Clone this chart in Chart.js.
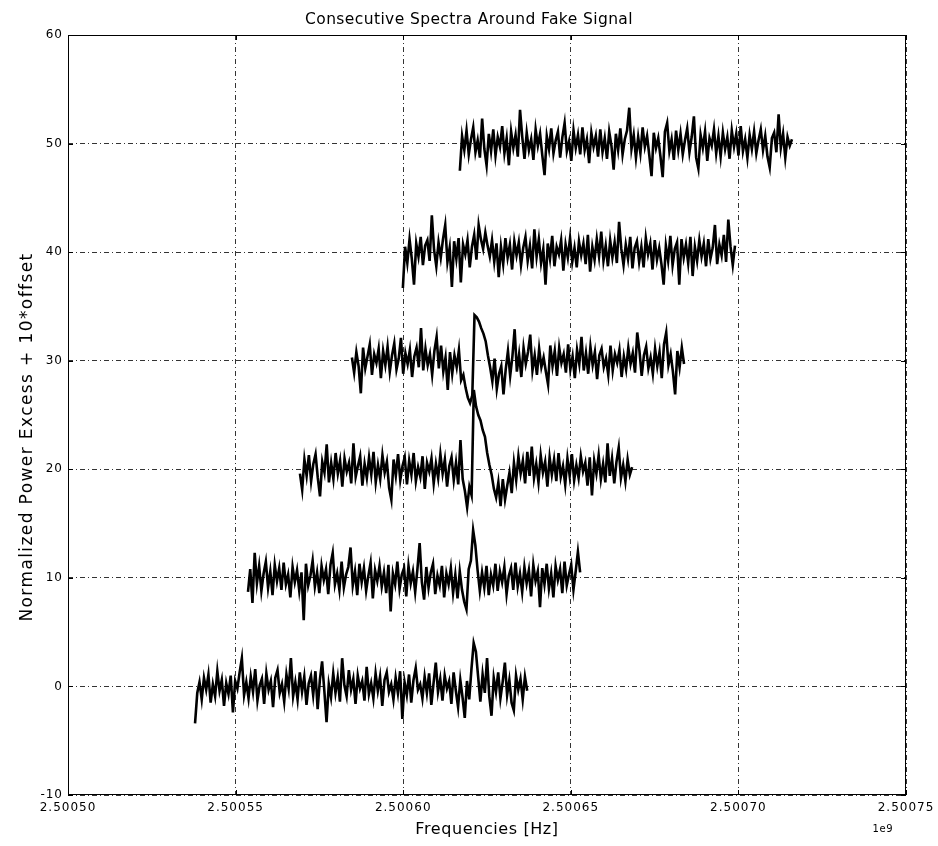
<!DOCTYPE html>
<html>
<head>
<meta charset="utf-8">
<title>Consecutive Spectra Around Fake Signal</title>
<script src="https://cdn.jsdelivr.net/npm/chart.js@4/dist/chart.umd.min.js"></script>
<style>
  html, body { margin: 0; padding: 0; background: #fff; }
  #wrap { width: 938px; height: 846px; }
</style>
</head>
<body>
<div id="wrap"><canvas id="spectra" width="938" height="846"></canvas></div>
<script>
// first bin of each spectrum (Hz), bin width and the vertical offset index
const startFreqs = [2500537900, 2500553700, 2500569200, 2500584700, 2500599900, 2500616900];
const binWidth = 665;
const offsets = [0, 1, 2, 3, 4, 5];

const xTicks = [2500500000, 2500550000, 2500600000, 2500650000, 2500700000, 2500750000];
const yTicks = [-10, 0, 10, 20, 30, 40, 50, 60];

// normalized power excess per bin
const spec0 = [
  -3.4, -0.6, 0.4, -1.2, 0.8, -0.3, 1.1, -1.5, 0.2, -0.9, 1.4, -0.4, 0.6, -1.8, 0.3,
  -0.7, 1.0, -2.4, 0.5, -0.2, 1.3, 2.6, -0.8, 0.4, -1.1, 0.9, -0.5, 1.6, -1.3, 0.1,
  0.7, -1.6, 1.2, -0.3, 0.5, -1.9, 0.8, 1.5, -0.6, 0.2, -1.4, 1.1, -0.2, 2.6, -0.9,
  0.4, -1.2, 1.3, -0.5, 0.9, -1.7, 0.3, 1.0, -0.8, 1.4, -2.1, 0.6, 2.3, -0.4, -3.3,
  0.2, -1.0, 1.2, -0.6, 0.8, -1.4, 2.6, 0.1, -0.9, 1.5, -0.3, 0.7, -1.6, 1.0, -0.2,
  0.5, -1.3, 1.8, -0.7, 0.3, -1.1, 1.2, -0.4, 0.9, -1.8, 0.6, 1.3, -0.5, 0.2, -1.2,
  0.8, -0.6, 1.4, -3.0, 0.4, -0.8, 1.1, -1.5, 0.6, 1.7, -0.3, 0.2, -1.1, 0.9, -0.6,
  1.2, -1.7, 0.3, 2.2, -0.5, 0.7, -1.3, 1.0, -0.2, 0.5, -1.6, 1.3, -0.4, -1.9, 0.6,
  -1.0, -2.9, 0.5, -1.2, 1.6, 4.0, 3.2, 0.9, -1.4, 1.1, -0.6, 2.6, -0.9, -2.7, 0.8,
  -0.5, 1.3, -1.1, 0.4, 2.2, -0.8, 0.6, -1.5, -2.2, 1.0, -0.3, 0.7, -1.2, 0.9, -0.4
];
const spec1 = [
  -1.3, 0.8, -2.3, 2.3, -0.5, 1.1, -1.2, 0.4, 1.5, -0.9, 0.6, -1.6, 1.2, -0.3, 0.9,
  -1.1, 1.4, -0.6, 0.3, -1.8, 1.0, -0.4, 0.7, -1.2, 0.5, -3.9, 1.3, -0.7, 0.2, 1.6,
  -0.8, 0.5, -1.4, 1.1, -0.2, 0.8, -1.5, 1.2, 2.3, -0.6, 0.4, -1.1, 1.5, -0.9, 0.3,
  1.0, 2.8, -0.7, 0.6, -1.6, 1.3, -0.4, 0.9, -1.2, 0.2, 1.4, -1.9, 0.7, -0.3, 1.1,
  -0.8, 0.5, -1.4, 1.2, -3.1, 0.4, -0.6, 1.5, -1.0, 0.3, 0.9, -1.7, 1.1, -0.5, 0.6,
  -1.3, 0.8, 3.2, -0.4, -2.0, 1.0, -0.9, 0.5, 1.3, -1.5, 0.2, -0.7, 1.1, -1.8, 0.4,
  -0.6, 0.9, -1.4, 0.3, -1.9, 0.6, -1.1, -2.2, -2.9, 0.8, 1.6, 4.4, 3.0, 0.7, -1.2,
  0.5, -0.9, 1.1, -1.6, 0.3, -0.7, 1.3, -1.2, 0.6, -0.4, 1.0, -1.5, 0.2, 0.9, -1.1,
  1.4, -0.8, 0.4, -1.3, 1.0, -0.5, 0.7, -1.7, 1.2, -0.3, 0.6, -2.7, 0.9, -0.6, 1.3,
  -1.0, 0.4, -1.8, 1.1, -0.2, 0.8, -1.4, 1.5, -0.7, 0.3, 1.2, -1.1, 0.6, 2.4, 0.5
];
const spec2 = [
  -0.4, -1.9, 0.9, -0.6, 1.3, -1.1, 0.5, 1.4, -0.8, -2.5, 0.7, -0.3, 2.3, -1.2, 0.6,
  -0.9, 1.5, -0.4, 0.8, -1.6, 1.0, -0.2, 0.6, -1.3, 2.4, -0.7, 0.3, 1.2, -1.5, 0.5,
  -0.8, 1.1, -0.5, 1.6, -1.2, 0.4, -0.9, 1.3, -0.3, 0.7, -1.7, -2.8, 0.9, -0.6, 1.4,
  -1.0, 0.3, 1.1, -1.4, 0.8, -0.5, 1.5, -1.1, 0.2, -0.7, 1.2, -1.8, 0.6, -0.2, 1.0,
  -1.3, 0.5, -0.8, 1.4, -0.4, 0.9, -1.6, 0.3, 1.1, -1.0, 0.6, -1.4, 2.7, -0.9, -2.0,
  -3.5, -1.6, -2.4, 7.3, 5.8, 5.0, 4.5, 3.6, 3.0, 1.5, 0.4, -0.5, -1.8, -2.6, -1.2,
  -3.4, -0.9, -2.8, -1.5, -0.3, -2.2, 0.6, -1.0, 1.2, -0.4, 0.8, -1.3, 1.6, -0.6, 2.1,
  -0.8, 0.5, -1.2, 1.3, -0.3, 0.7, -1.6, 1.1, -0.5, 0.9, -1.1, 1.5, -0.7, 0.3, -1.4,
  1.0, -0.6, 1.4, -1.0, 0.4, -0.8, 1.2, -0.2, 0.6, -1.5, 1.1, -2.4, 0.8, -0.4, 1.3,
  -0.9, 0.5, -1.2, 2.4, -0.6, 1.0, -1.3, 0.7, 2.0, -0.8, 0.4, -1.1, 0.9, -0.5, 0.2
];
const spec3 = [
  0.3, -1.1, 0.8, -0.5, -3.0, 1.2, -0.7, 0.4, 1.5, -1.3, 0.6, -0.2, 1.1, -1.6, 0.9,
  -0.4, 1.3, -1.0, 0.5, 1.6, -0.8, 0.2, 2.1, -1.2, 0.7, -0.3, 1.0, -1.5, 0.4, 1.2,
  -0.6, 3.0, -0.9, 1.1, -0.4, 0.6, -1.3, 0.9, 2.2, -0.7, 1.4, -1.0, 0.3, -2.7, 0.8,
  -1.2, 0.5, -0.6, 1.0, -1.8, -1.3, -2.5, -3.4, -3.9, -3.2, 4.2, 4.0, 3.6, 3.0, 2.5,
  1.8, 0.5, -0.6, -1.9, 0.2, -2.6, -1.2, -0.5, -3.1, -0.8, 0.9, -1.4, 0.4, 2.9, -1.0,
  0.6, -1.5, 1.2, -0.3, 0.8, 2.4, -0.9, 0.5, -1.3, 1.1, -0.6, 0.3, -1.0, -2.2, 1.4,
  -0.5, 0.9, -1.4, 1.2, -0.2, 0.6, -1.1, 1.5, -0.8, 0.4, -1.6, 1.0, -0.3, 2.2, -0.9,
  0.7, -1.2, 1.3, -0.4, 0.8, -1.7, 0.5, 1.1, -0.6, 0.2, -1.3, 1.4, -0.9, 0.6, -0.2,
  1.0, -1.5, 0.4, -0.8, 1.2, -0.3, 0.7, -1.1, 2.6, 0.9, -1.4, 0.5, 1.3, -0.7, 0.3,
  -1.2, 1.1, -0.5, 0.8, -1.6, 1.5, 2.6, -0.4, 0.6, -1.0, -3.1, 0.9, -0.6, 1.2, -0.3
];
const spec4 = [
  -3.3, 0.5, -1.0, 1.2, -0.6, -3.0, 0.8, -0.4, 1.4, -1.2, 0.6, 1.1, -0.8, 3.4, 0.2,
  -1.3, 0.9, -0.5, 1.2, 2.5, -0.9, 0.4, -3.2, 1.0, -0.6, 1.3, -2.8, 0.7, -0.2, 1.1,
  -1.4, 0.5, 1.6, -0.7, 2.5, 1.2, 0.3, 1.8, 0.6, -0.4, 1.1, -0.9, 0.8, -2.3, 0.5,
  -1.1, 1.3, -0.5, 0.7, -1.6, 1.0, -0.3, 0.9, -1.2, 0.4, 1.4, -0.8, 0.6, -1.5, 2.1,
  -0.4, 1.2, -1.0, 0.3, -3.0, 0.8, -0.6, 1.5, -1.3, 0.5, -0.2, 1.1, -1.7, 0.7, -0.5,
  1.3, -0.9, 0.4, -1.4, 1.0, -0.3, 0.8, -1.1, 1.6, -1.8, 0.5, -0.7, 1.2, -0.4, 1.9,
  -0.8, 0.6, -1.3, 1.1, -0.5, 0.9, -1.0, 2.8, 0.3, -1.2, 0.7, -0.6, 1.4, -1.5, 0.4,
  1.0, -0.9, 0.5, -1.4, 1.3, -0.2, 0.8, -1.6, 1.1, -0.7, 0.4, -1.1, -3.0, 0.6, -0.8,
  1.5, -1.2, 0.3, 0.9, -3.0, 1.2, -0.5, 0.7, -1.0, 1.4, -2.2, 0.5, -0.8, 1.1, -0.4,
  0.8, -1.3, 1.2, -0.6, 0.4, 2.5, -1.1, 0.7, -0.3, 1.6, -0.9, 3.0, 0.5, -1.2, 0.6
];
const spec5 = [
  -2.5, 0.7, -0.6, 1.2, -1.0, 0.4, 1.5, -0.8, 0.3, -1.3, 2.3, -0.5, -2.0, 0.9, -0.7,
  1.3, -1.1, 0.6, -0.3, 1.6, -0.9, 0.5, -2.0, 1.1, -0.4, 0.8, -1.2, 3.1, 0.6, -1.4,
  1.0, -0.6, 0.4, -1.5, 1.3, -0.2, 0.9, -1.1, -2.9, 0.7, -0.5, 1.4, -0.9, 0.3, 1.1,
  -1.3, 0.6, 1.9, -0.7, 0.2, -1.6, 1.2, -0.4, 0.8, -1.0, 1.5, -0.6, 0.4, -1.8, 1.0,
  -0.3, 0.7, -1.2, 1.3, -0.8, 0.5, -1.4, 1.1, -0.2, -2.4, 0.9, -0.6, 1.4, -1.0, 0.4,
  1.2, 3.3, -0.5, 0.8, -1.3, 0.6, -0.9, 1.5, -0.3, 0.7, -1.1, -3.0, 1.0, -0.4, 0.5,
  -1.2, -3.1, 1.1, 1.9, -0.7, 0.4, -1.5, 1.2, -0.6, 0.9, -1.0, 0.3, 1.4, -0.8, 0.6,
  2.5, -1.3, -2.3, 0.8, -0.4, 1.1, -1.6, 0.5, -0.2, 1.3, -0.9, 0.7, -1.2, 1.0, -0.5,
  0.6, -1.4, 1.2, -0.3, 0.9, -1.1, 1.6, -0.7, 0.4, -1.3, 0.8, -0.5, 1.1, -0.9, 0.3,
  1.3, -0.6, 0.7, -1.2, -2.2, 0.5, 1.0, -0.8, 2.7, -0.4, 0.9, -1.3, 0.6, -0.2, 0.4
];

const spectra = [spec0, spec1, spec2, spec3, spec4, spec5];

const FONT = '"DejaVu Sans", "Liberation Sans", sans-serif';

const datasets = spectra.map((spec, k) => ({
  label: 'offset ' + offsets[k],
  data: spec.map((v, i) => ({ x: startFreqs[k] + i * binWidth, y: v + 10 * offsets[k] })),
  showLine: true,
  borderColor: '#000',
  borderWidth: 2.6,
  pointRadius: 0,
  tension: 0
}));

// slightly widened tick text, like the original figure
const spacing = {
  id: 'spacing',
  beforeDraw(chart) { chart.ctx.letterSpacing = '1px'; }
};

// frame, inward tick marks, title, axis labels and the 1e9 offset label
const decorations = {
  id: 'decorations',
  afterDraw(chart) {
    const { ctx, chartArea: a, scales } = chart;
    ctx.save();
    ctx.strokeStyle = '#000';
    ctx.lineWidth = 1;
    ctx.setLineDash([]);
    ctx.strokeRect(a.left + 0.5, a.top + 0.5, a.right - a.left - 1, a.bottom - a.top - 1);

    ctx.beginPath();
    xTicks.forEach(t => {
      const px = Math.round(scales.x.getPixelForValue(t)) + 0.5;
      ctx.moveTo(px, a.bottom); ctx.lineTo(px, a.bottom - 5);
      ctx.moveTo(px, a.top); ctx.lineTo(px, a.top + 5);
    });
    yTicks.forEach(t => {
      const py = Math.round(scales.y.getPixelForValue(t)) + 0.5;
      ctx.moveTo(a.left, py); ctx.lineTo(a.left + 5, py);
      ctx.moveTo(a.right, py); ctx.lineTo(a.right - 5, py);
    });
    ctx.stroke();

    ctx.fillStyle = '#000';
    ctx.textAlign = 'center';
    ctx.textBaseline = 'middle';

    ctx.letterSpacing = '0.4px';
    ctx.font = '15.5px ' + FONT;
    ctx.fillText('Consecutive Spectra Around Fake Signal', 469, 20);

    ctx.letterSpacing = '0.6px';
    ctx.font = '16px ' + FONT;
    ctx.fillText('Frequencies [Hz]', (a.left + a.right) / 2, 830);

    ctx.save();
    ctx.translate(28, 437);
    ctx.rotate(-Math.PI / 2);
    ctx.letterSpacing = '1.4px';
    ctx.font = '17px ' + FONT;
    ctx.fillText('Normalized Power Excess + 10*offset', 0, 0);
    ctx.restore();

    ctx.letterSpacing = '0.5px';
    ctx.font = '10px ' + FONT;
    ctx.textAlign = 'right';
    ctx.fillText('1e9', 893, 829);
    ctx.restore();
  }
};

new Chart(document.getElementById('spectra'), {
  type: 'scatter',
  data: { datasets },
  options: {
    responsive: false,
    animation: false,
    layout: { padding: { top: 35, right: 32, bottom: 0, left: 0 } },
    plugins: {
      legend: { display: false },
      tooltip: { enabled: false },
      title: { display: false }
    },
    scales: {
      x: {
        type: 'linear',
        min: xTicks[0],
        max: xTicks[xTicks.length - 1],
        afterBuildTicks: s => { s.ticks = xTicks.map(v => ({ value: v })); },
        afterFit: s => { s.height = 51; },
        ticks: {
          color: '#000',
          font: { family: FONT, size: 12 },
          padding: 6,
          maxRotation: 0,
          callback: v => (v / 1e9).toFixed(5)
        },
        grid: { color: '#333', lineWidth: 1, drawTicks: false },
        border: { display: false, dash: [5, 3, 1, 3] }
      },
      y: {
        min: yTicks[0],
        max: yTicks[yTicks.length - 1],
        afterBuildTicks: s => { s.ticks = yTicks.map(v => ({ value: v })); },
        afterFit: s => { s.width = 68; },
        ticks: {
          color: '#000',
          font: { family: FONT, size: 12 },
          padding: 5
        },
        grid: { color: '#333', lineWidth: 1, drawTicks: false },
        border: { display: false, dash: [5, 3, 1, 3] }
      }
    }
  },
  plugins: [spacing, decorations]
});
</script>
</body>
</html>
